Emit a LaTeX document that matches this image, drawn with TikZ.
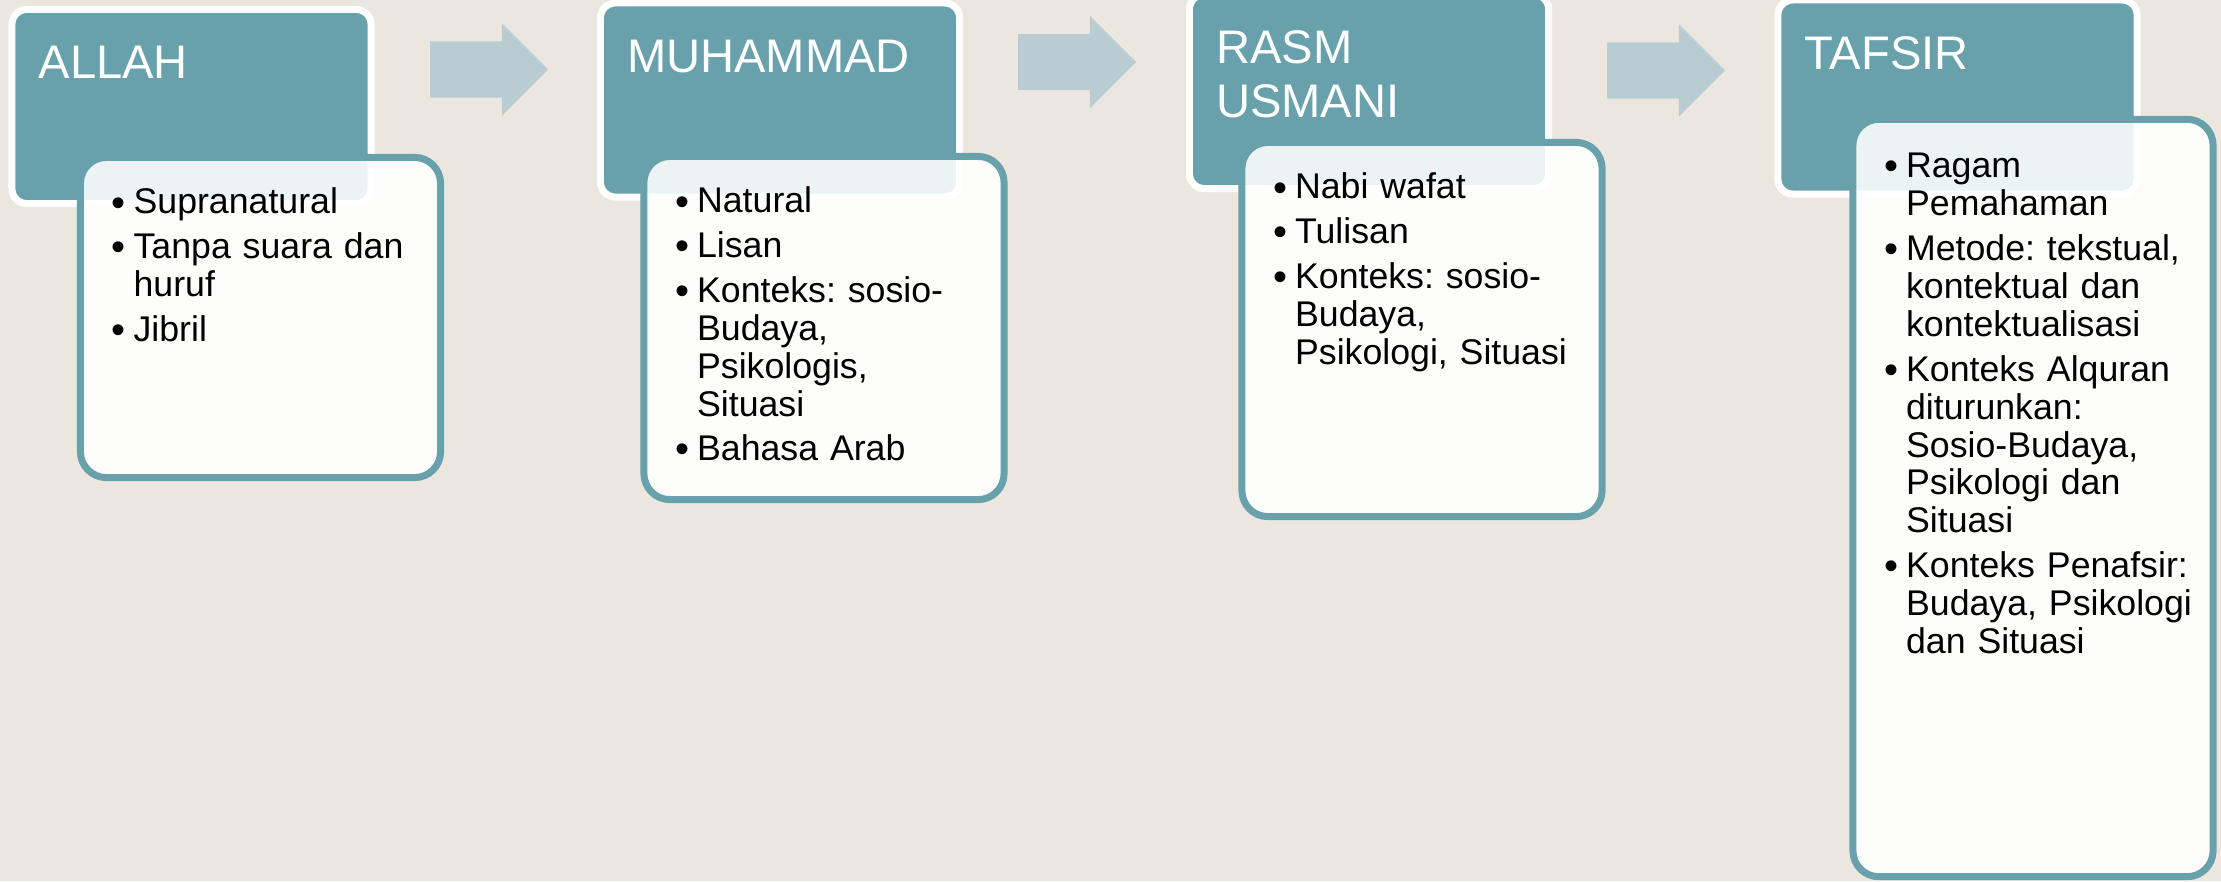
\documentclass[tikz,border=0pt]{standalone}
\usepackage{graphicx}
\usepackage{fontspec}
\setmainfont{Liberation Sans}
\usetikzlibrary{shapes.arrows,positioning}
\definecolor{bgcol}{HTML}{EBE7DF}
\definecolor{tealc}{HTML}{68A1AB}
\definecolor{arrowc}{HTML}{B8CCD2}
\newcommand{\bul}[1]{\hangindent=0.2cm\hangafter=1\makebox[0.2cm][l]{\hspace{-0.02cm}\raisebox{-0.6pt}{\scalebox{1.12}{\textbullet}}}#1\par}

\begin{document}
\begin{tikzpicture}[
  x=0.01cm,y=-0.01cm,
  head/.style={draw=white,line width=0.07cm,fill=tealc,rounded corners=0.15cm,minimum width=3.59cm,minimum height=1.94cm,inner sep=0pt,outer sep=0pt},
  pts/.style={draw=tealc,line width=0.07cm,fill=white,fill opacity=0.88,text opacity=1,rounded corners=0.26cm,minimum width=3.6cm,inner sep=0pt,outer sep=0pt},
  ttl/.style={anchor=base west,text=white,align=left,inner sep=0pt,font=\fontsize{13.4}{15.4}\selectfont},
  txt/.style={anchor=base west,text width=3.4cm,inner sep=0pt,font=\fontsize{10.15}{10.8}\selectfont\frenchspacing,execute at begin node={\setlength{\parskip}{1.9pt}}},
  blk/.style={single arrow,fill=arrowc,minimum height=1.18cm,inner xsep=0pt,inner ysep=0.275cm,single arrow head extend=0.18cm,outer sep=0pt}
]
\path[fill=bgcol,use as bounding box] (0,0) rectangle (2221,881);

% title boxes
\node[head] (allah) at (191.5,106.5) {};
\node[head] (muhammad) at (780,100) {};
\node[head] (rasm) at (1369,91.5) {};
\node[head] (tafsir) at (1957.5,97) {};

% block arrows between the stages
\node[blk] (a1) at (475,69.5) {};
\node[blk] (a2) at (1063,62) {};
\node[blk] (a3) at (1652,70.5) {};

% point boxes
\node[pts,minimum height=3.2cm] (allahpts) at (260.5,317.5) {};
\node[pts,minimum height=3.43cm] (muhammadpts) at (824,328) {};
\node[pts,minimum height=3.74cm] (rasmpts) at (1422,329.5) {};
\node[pts,minimum height=7.57cm] (tafsirpts) at (2033,498) {};

\node[ttl] (allahttl) at ([shift={(26,69.5)}]allah.north west) {ALLAH};
\node[ttl] (muhammadttl) at ([shift={(26,69.5)}]muhammad.north west) {MUHAMMAD};
\node[ttl] (rasmttl) at ([shift={(26,123.5)}]rasm.north west) {RASM\\USMANI};
\node[ttl] (tafsirttl) at ([shift={(26,69.5)}]tafsir.north west) {TAFSIR};

\node[txt] (allahtxt) at ([shift={(32.5,56.5)}]allahpts.north west)
  {\bul{Supranatural}\bul{Tanpa suara dan\newline huruf}\bul{Jibril}};
\node[txt] (muhammadtxt) at ([shift={(32.5,56.5)}]muhammadpts.north west)
  {\bul{Natural}\bul{Lisan}\bul{Konteks: sosio-\newline Budaya,\newline Psikologis,\newline Situasi}\bul{Bahasa Arab}};
\node[txt] (rasmtxt) at ([shift={(32.5,56.5)}]rasmpts.north west)
  {\bul{Nabi wafat}\bul{Tulisan}\bul{Konteks: sosio-\newline Budaya,\newline Psikologi, Situasi}};
\node[txt] (tafsirtxt) at ([shift={(32.5,58.5)}]tafsirpts.north west)
  {\bul{Ragam\newline Pemahaman}\bul{Metode: tekstual,\newline kontektual dan\newline kontektualisasi}\bul{Konteks Alquran\newline diturunkan:\newline Sosio-Budaya,\newline Psikologi dan\newline Situasi}\bul{Konteks Penafsir:\newline Budaya, Psikologi\newline dan Situasi}};
\end{tikzpicture}
\end{document}
